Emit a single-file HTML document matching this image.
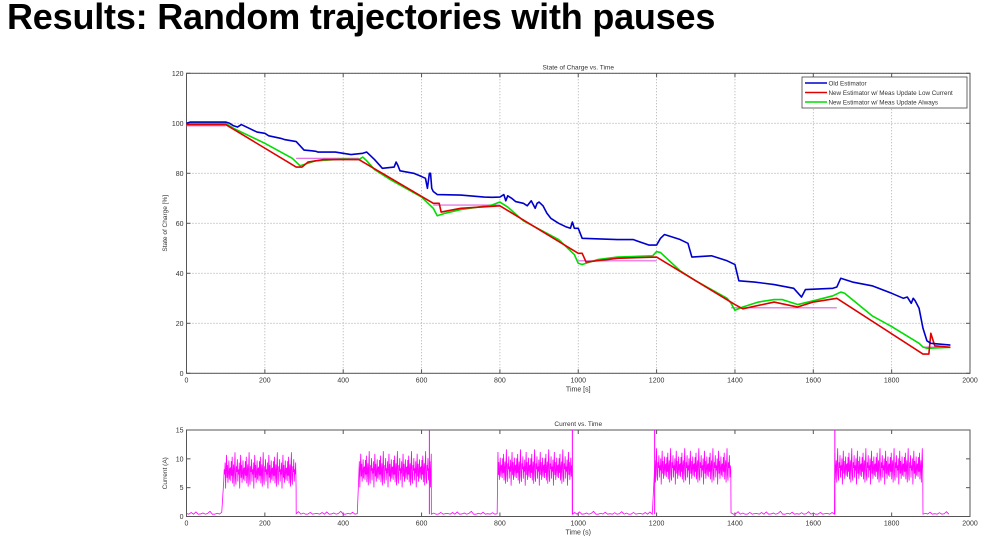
<!DOCTYPE html>
<html><head><meta charset="utf-8"><style>
body{margin:0;width:1000px;height:542px;background:#fff;overflow:hidden;font-family:"Liberation Sans",Arial,sans-serif}
h1{position:absolute;left:7px;top:-4px;margin:0;font-size:36px;font-weight:bold;color:#000;letter-spacing:-0.2px}
svg{position:absolute;left:0;top:0}
text{font-family:"Liberation Sans",Arial,sans-serif;fill:#333}
</style></head><body>
<h1>Results: Random trajectories with pauses</h1>
<svg id="chart" width="1000" height="542"></svg>
<script>
const blueT=[0,10,100,110,120,130,140,160,180,200,210,240,250,280,300,320,330,335,380,400,420,450,460,470,480,500,530,535,540,545,580,600,610,615,620,623,626,630,640,700,760,780,800,810,815,820,830,840,860,870,880,890,895,900,910,920,930,950,970,980,985,990,1000,1010,1100,1140,1180,1200,1210,1220,1240,1260,1280,1290,1340,1380,1400,1410,1450,1500,1550,1570,1580,1650,1660,1670,1700,1750,1800,1830,1840,1850,1855,1860,1870,1880,1890,1900,1950];
const blueV=[100,100.5,100.5,100,99,98.5,99.5,98,96.5,96,95,94,93.5,92.7,89.3,89,88.8,88.5,88.5,88,87.5,88,88.5,87,85.5,82,82.5,84.5,83,81,80,78.7,78,74,80,80,74,72.7,71.5,71.3,70.5,70.4,70.5,71.5,69,71,70,68.7,68,67,69,66,68,68.5,67,64,62,60,58.5,58,60.5,58,58,54,53.5,53.5,51.3,51.3,54,55.5,54.5,53.5,52,46.5,47,45,43.5,37,36.5,35.5,34,30.5,33.5,34,34.5,38,36.5,35,32,30,30.5,28,30,29,26,18,13,12,11.3];
const redT=[0,100,280,295,310,350,440,630,645,650,700,800,1000,1010,1020,1100,1200,1400,1420,1500,1560,1600,1660,1880,1895,1900,1910,1950];
const redV=[99.5,99.5,82.5,82.5,84.5,85.5,85.5,68,68,64.5,66,67,48,48,44.5,46,46.5,27.5,25.8,28.5,26.5,28.5,30,7.7,7.7,16,11,10.4];
const greenT=[0,100,120,200,270,290,300,330,400,440,450,460,480,520,600,630,640,660,700,780,800,820,860,950,990,1000,1010,1050,1100,1190,1200,1210,1260,1300,1380,1390,1400,1420,1460,1500,1520,1560,1600,1650,1670,1680,1750,1800,1870,1880,1890,1950];
const greenV=[100,100,98,92,86,83,83.5,85,85.7,85.5,86.5,85,81.5,77.5,70.5,66,63,64,65.5,67.3,68.5,66.5,61,53.5,47.5,44,43.5,45.5,46.5,47,48.7,48.3,41,37,30,28,25.2,26.5,28.5,29.5,29.5,27.5,29,31,32.5,32,23,18.7,12,10.5,10,10.4];
const pauseStart=[0,280,630,1000,1390,1880];
const pauseEnd=[100,440,800,1200,1660,1950];
const pauseLevel=[99,86,67.3,45,26.2,10.5];
const xTicks=[0,200,400,600,800,1000,1200,1400,1600,1800,2000];
const socTicks=[0,20,40,60,80,100,120];
const curTicks=[0,5,10,15];
const driveStart=[95,440,795,1195,1655];
const driveEnd=[280,625,985,1390,1880];
const driveLevel=[7.5,7.7,8,8.2,8.2];
const idleLevel=[0.4,0.4,0.4,0.4,0.4,0.4];
const spikeT=[620,985,1195,1655];
const jitter=[0.8,-1.2,1.9,-0.4,2.6,-1.6,0.3,1.4,-2.1,0.9,3.3,-0.9,-1.8,1.1,0.2,2.2,-1.3,0.6,-0.2,1.7,-2.4,0.5,2.9,-0.7,1.3,-1.5,0.1,2.0,-1.0,0.7];

const svg=document.getElementById('chart');
const NS='http://www.w3.org/2000/svg';
function mk(tag,attrs,parent){const e=document.createElementNS(NS,tag);for(const k in attrs)e.setAttribute(k,attrs[k]);(parent||svg).appendChild(e);return e;}
const X0=186.5,X1=970;
const xs=t=>X0+(X1-X0)*t/2000;
const T0=73.3,T1=373.3, ys=v=>T1-(T1-T0)*v/120;
const B0=430,B1=516.5, yc=v=>B1-(B1-B0)*v/15;

function axes(top,bot,yt,yf,title,xlab,ylab,name){
  const g=mk('g',{});
  
  
  mk('rect',{x:X0,y:top,width:X1-X0,height:bot-top,fill:'#fff',stroke:'none'},g);
  if(name==='soc-chart'){
    xTicks.forEach(t=>{const l=mk('line',{x1:xs(t),x2:xs(t),y1:top,y2:bot,stroke:'#999','stroke-width':0.8,'stroke-dasharray':'1,2'},g);});
    yt.forEach(v=>{const l=mk('line',{x1:X0,x2:X1,y1:yf(v),y2:yf(v),stroke:'#999','stroke-width':0.8,'stroke-dasharray':'1,2'},g);});
  }
  mk('rect',{x:X0,y:top,width:X1-X0,height:bot-top,fill:'none',stroke:'#555','stroke-width':1},g);
  xTicks.forEach(t=>{mk('line',{x1:xs(t),x2:xs(t),y1:bot,y2:bot-4,stroke:'#555'},g);mk('line',{x1:xs(t),x2:xs(t),y1:top,y2:top+4,stroke:'#555'},g);
    const tx=mk('text',{x:xs(t),y:bot+9,'font-size':7,'text-anchor':'middle'},g);tx.textContent=t;});
  yt.forEach(v=>{mk('line',{x1:X0,x2:X0+4,y1:yf(v),y2:yf(v),stroke:'#555'},g);mk('line',{x1:X1,x2:X1-4,y1:yf(v),y2:yf(v),stroke:'#555'},g);
    const tx=mk('text',{x:X0-3,y:yf(v)+2.5,'font-size':7,'text-anchor':'end'},g);tx.textContent=v;});
  const ti=mk('text',{x:(X0+X1)/2,y:top-4,'font-size':6.5,'text-anchor':'middle'},g);ti.textContent=title;
  const xl=mk('text',{x:(X0+X1)/2,y:bot+18,'font-size':7,'text-anchor':'middle'},g);xl.textContent=xlab;
  const yl=mk('text',{x:0,y:0,'font-size':6.5,'text-anchor':'middle',transform:`translate(167,${(top+bot)/2}) rotate(-90)`},g);yl.textContent=ylab;
  return g;
}
axes(T0,T1,socTicks,ys,'State of Charge vs. Time','Time [s]','State of Charge [%]','soc-chart');

function line(T,V,color,name,w){
  const p=mk('polyline',{points:T.map((t,i)=>xs(t)+','+ys(V[i])).join(' '),fill:'none',stroke:color,'stroke-width':w||1.6,'stroke-linejoin':'round'});
  
  
}
pauseStart.forEach((s,i)=>{
  const l=mk('line',{x1:xs(s),x2:xs(pauseEnd[i]),y1:ys(pauseLevel[i]),y2:ys(pauseLevel[i]),stroke:'#e060e0','stroke-width':1.2});
  
  
});
line(greenT,greenV,'#00dd00','green-series-always-update');
line(redT,redV,'#e00000','red-series-low-current-update');
line(blueT,blueV,'#0000cc','blue-series-old-estimator');

const lg=mk('g',{});


mk('rect',{x:802,y:77,width:165,height:31,fill:'#fff',stroke:'#444','stroke-width':0.8},lg);
[['Old Estimator','#0000cc'],['New Estimator w/ Meas Update Low Current','#e00000'],['New Estimator w/ Meas Update Always','#00dd00']].forEach((e,i)=>{
  const y=83+i*9.5;
  const ent=mk('g',{},lg);
  
  
  mk('line',{x1:805,x2:827,y1:y,y2:y,stroke:e[1],'stroke-width':1.6},ent);
  const t=mk('text',{x:828.5,y:y+2.3,'font-size':6.3},ent);t.textContent=e[0];
});

axes(B0,B1,curTicks,yc,'Current vs. Time','Time (s)','Current (A)','current-chart');
let pts=[];let j=0;
const idleStart=[0,...driveEnd], idleEnd=[...driveStart,1950];
for(let k=0;k<idleStart.length;k++){
  for(let t=idleStart[k];t<idleEnd[k];t+=6){pts.push([t,idleLevel[k]+Math.max(0,jitter[j++%jitter.length])*0.15]);}
  if(k<driveStart.length){
    for(let t=driveStart[k];t<=driveEnd[k];t+=1.2){pts.push([t,driveLevel[k]+jitter[j++%jitter.length]*1.1]);}
  }
}
pts.sort((a,b)=>a[0]-b[0]);
const cp=mk('polyline',{points:pts.map(p=>xs(p[0])+','+yc(Math.min(15,Math.max(0,p[1])))).join(' '),fill:'none',stroke:'#ff00ff','stroke-width':0.8});


spikeT.forEach(t=>{const s=mk('line',{x1:xs(t),x2:xs(t),y1:yc(0.4),y2:yc(15),stroke:'#ff00ff','stroke-width':1});});
</script>
</body></html>
